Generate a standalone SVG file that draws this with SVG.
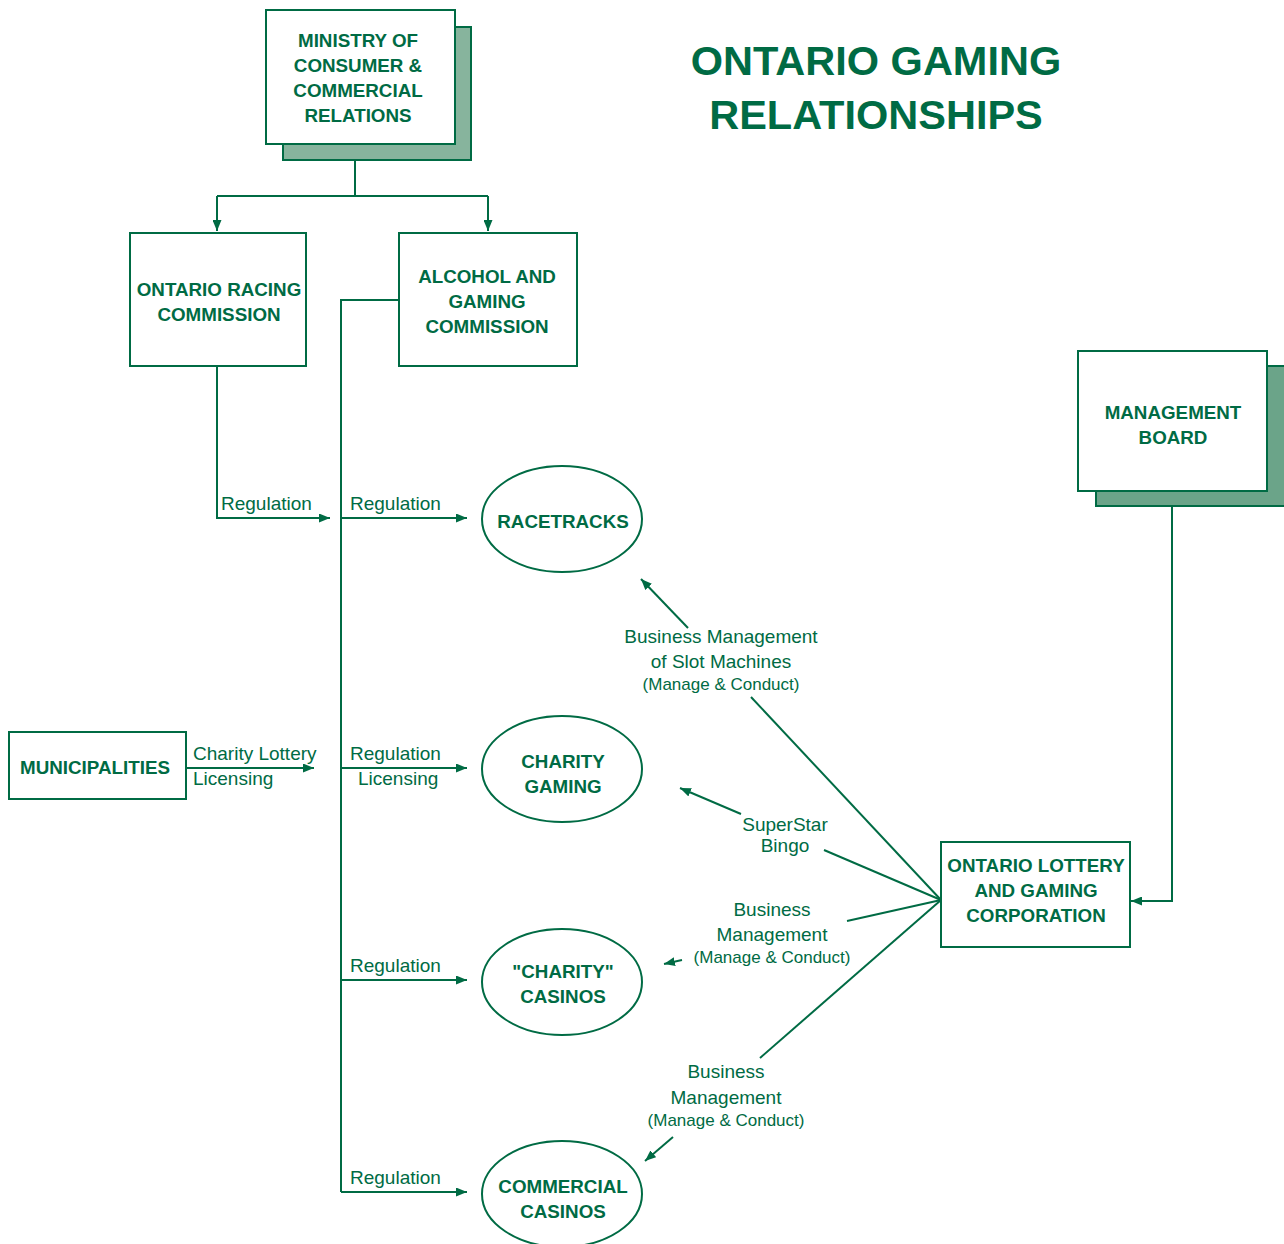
<svg xmlns="http://www.w3.org/2000/svg" width="1284" height="1244" viewBox="0 0 1284 1244">
<style>
.box{fill:#fff;stroke:#006b44;stroke-width:2}
.sh1{fill:#87b49d;stroke:#006b44;stroke-width:2}
.sh2{fill:#6ba489;stroke:#006b44;stroke-width:2}
.node{font-family:"Liberation Sans",Arial,sans-serif;font-weight:bold;font-size:18.8px;fill:#006b44;text-anchor:middle}
.title{font-family:"Liberation Sans",Arial,sans-serif;font-weight:bold;font-size:41.5px;fill:#006b44;text-anchor:middle}
.lbl{font-family:"Liberation Sans",Arial,sans-serif;font-size:19px;fill:#006b44}
.sm{font-family:"Liberation Sans",Arial,sans-serif;font-size:17px;fill:#006b44}
.mid{text-anchor:middle}
.ln{fill:none;stroke:#006b44;stroke-width:2}
</style>
<defs>
<marker id="ah" markerUnits="userSpaceOnUse" markerWidth="11" markerHeight="9" refX="11" refY="4.5" orient="auto" viewBox="0 0 11 9">
<path d="M0,0 L11,4.5 L0,9 z" fill="#006b44"/>
</marker>
</defs>

<g id="title">
<text class="title" x="876" y="75">ONTARIO GAMING</text>
<text class="title" x="876" y="129">RELATIONSHIPS</text>
</g>

<g id="connectors">
<polyline class="ln" points="355,144 355,196"/>
<polyline class="ln" points="217,196 488,196"/>
<line class="ln" x1="217" y1="196" x2="217" y2="231" marker-end="url(#ah)"/>
<line class="ln" x1="488" y1="196" x2="488" y2="231" marker-end="url(#ah)"/>
<polyline class="ln" points="399,300 341,300 341,1192"/>
<polyline class="ln" points="217,366 217,518 330,518" marker-end="url(#ah)"/>
<line class="ln" x1="341" y1="518" x2="467" y2="518" marker-end="url(#ah)"/>
<line class="ln" x1="341" y1="768" x2="467" y2="768" marker-end="url(#ah)"/>
<line class="ln" x1="341" y1="980" x2="467" y2="980" marker-end="url(#ah)"/>
<line class="ln" x1="341" y1="1192" x2="467" y2="1192" marker-end="url(#ah)"/>
<line class="ln" x1="186" y1="768" x2="314" y2="768" marker-end="url(#ah)"/>
<polyline class="ln" points="1172,492 1172,901 1131,901" marker-end="url(#ah)"/>
<line class="ln" x1="941" y1="900" x2="751" y2="697"/>
<line class="ln" x1="688" y1="628" x2="641" y2="579" marker-end="url(#ah)"/>
<line class="ln" x1="941" y1="900" x2="824" y2="850"/>
<line class="ln" x1="741" y1="814" x2="680" y2="788" marker-end="url(#ah)"/>
<line class="ln" x1="941" y1="900" x2="847" y2="921"/>
<line class="ln" x1="682" y1="960" x2="664" y2="964" marker-end="url(#ah)"/>
<line class="ln" x1="941" y1="900" x2="760" y2="1058"/>
<line class="ln" x1="673" y1="1137" x2="645" y2="1161" marker-end="url(#ah)"/>
</g>

<g id="labels">
<text class="lbl" x="221" y="510">Regulation</text>
<text class="lbl" x="350" y="510">Regulation</text>
<text class="lbl" x="193" y="760">Charity Lottery</text>
<text class="lbl" x="193" y="785">Licensing</text>
<text class="lbl" x="350" y="760">Regulation</text>
<text class="lbl" x="358" y="785">Licensing</text>
<text class="lbl" x="350" y="972">Regulation</text>
<text class="lbl" x="350" y="1184">Regulation</text>
<text class="lbl mid" x="721" y="643">Business Management</text>
<text class="lbl mid" x="721" y="668">of Slot Machines</text>
<text class="sm mid" x="721" y="690">(Manage &amp; Conduct)</text>
<text class="lbl mid" x="785" y="831">SuperStar</text>
<text class="lbl mid" x="785" y="852">Bingo</text>
<text class="lbl mid" x="772" y="916">Business</text>
<text class="lbl mid" x="772" y="941">Management</text>
<text class="sm mid" x="772" y="963">(Manage &amp; Conduct)</text>
<text class="lbl mid" x="726" y="1078">Business</text>
<text class="lbl mid" x="726" y="1104">Management</text>
<text class="sm mid" x="726" y="1126">(Manage &amp; Conduct)</text>
</g>

<g id="ministry">
<rect class="sh1" x="283" y="27" width="188" height="133"/>
<rect class="box" x="266" y="10" width="189" height="134"/>
<text class="node" x="358" y="47">MINISTRY OF</text>
<text class="node" x="358" y="72">CONSUMER &amp;</text>
<text class="node" x="358" y="97">COMMERCIAL</text>
<text class="node" x="358" y="122">RELATIONS</text>
</g>

<g id="orc">
<rect class="box" x="130" y="233" width="176" height="133"/>
<text class="node" x="219" y="296">ONTARIO RACING</text>
<text class="node" x="219" y="321">COMMISSION</text>
</g>

<g id="agc">
<rect class="box" x="399" y="233" width="178" height="133"/>
<text class="node" x="487" y="283">ALCOHOL AND</text>
<text class="node" x="487" y="308">GAMING</text>
<text class="node" x="487" y="333">COMMISSION</text>
</g>

<g id="mgmt">
<rect class="sh2" x="1096" y="366" width="189" height="140"/>
<rect class="box" x="1078" y="351" width="189" height="140"/>
<text class="node" x="1173" y="419">MANAGEMENT</text>
<text class="node" x="1173" y="444">BOARD</text>
</g>

<g id="municipalities">
<rect class="box" x="9" y="732" width="177" height="67"/>
<text class="node" x="95" y="774">MUNICIPALITIES</text>
</g>

<g id="olgc">
<rect class="box" x="941" y="842" width="189" height="105"/>
<text class="node" x="1036" y="872">ONTARIO LOTTERY</text>
<text class="node" x="1036" y="897">AND GAMING</text>
<text class="node" x="1036" y="922">CORPORATION</text>
</g>

<g id="racetracks">
<ellipse class="box" cx="562" cy="519" rx="80" ry="53"/>
<text class="node" x="563" y="528">RACETRACKS</text>
</g>

<g id="charity-gaming">
<ellipse class="box" cx="562" cy="769" rx="80" ry="53"/>
<text class="node" x="563" y="768">CHARITY</text>
<text class="node" x="563" y="793">GAMING</text>
</g>

<g id="charity-casinos">
<ellipse class="box" cx="562" cy="982" rx="80" ry="53"/>
<text class="node" x="563" y="978">"CHARITY"</text>
<text class="node" x="563" y="1003">CASINOS</text>
</g>

<g id="commercial-casinos">
<ellipse class="box" cx="562" cy="1194" rx="80" ry="53"/>
<text class="node" x="563" y="1193">COMMERCIAL</text>
<text class="node" x="563" y="1218">CASINOS</text>
</g>
</svg>
